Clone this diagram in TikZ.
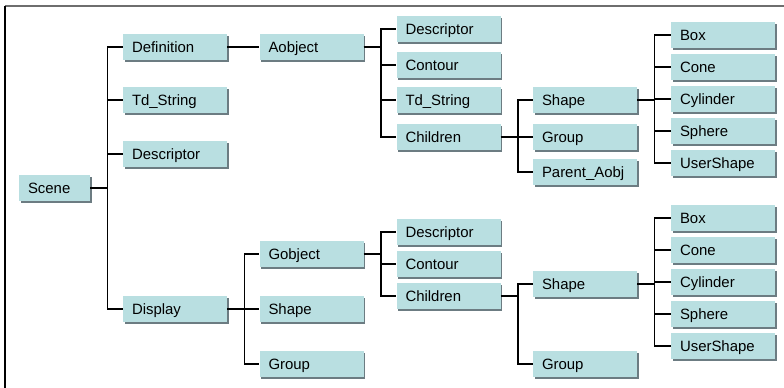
\documentclass[tikz,border=0pt]{standalone}
\usepackage{fontspec}
\setmainfont{Liberation Sans}
\usetikzlibrary{shadows}
\definecolor{boxfill}{RGB}{185,223,225}
\definecolor{boxedge}{RGB}{108,124,130}
\definecolor{framegrey}{RGB}{110,110,110}
\tikzset{
  item/.style={fill=boxfill, anchor=center, align=left,
    text width=64.5pt, inner xsep=6.75pt, inner ysep=0pt,
    minimum height=19pt, text height=8pt, text depth=0pt,
    font=\fontsize{11.2}{13}\selectfont,
    drop shadow={shadow xshift=1.4pt, shadow yshift=-1.4pt, fill=boxedge, opacity=1}},
  wire/.style={line width=1.1pt, black}
}
% parent to child: out to the bus, then over
\newcommand{\branch}[2]{\draw[wire] (#1.east) -- ++(17,0) |- (#2.west);}

\begin{document}
\begin{tikzpicture}[x=0.75pt, y=-0.75pt]
\useasboundingbox (0,0) rectangle (784,388);
\draw[framegrey, line width=1pt] (5,6) -- (784,6);
\draw[black, line width=1pt] (5,6) -- (5,388);

\node[item, text width=39.75pt] (scene) at (54.5,188) {Scene};
\node[item] (def) at (175,47) {Definition};
\node[item] (tds) at (175,100) {Td\_String};
\node[item] (desc) at (175,154) {Descriptor};
\node[item] (disp) at (175,309) {Display};
\foreach \c in {def,tds,desc,disp} {\branch{scene}{\c}}

% Definition subtree
\node[item] (aobj) at (311.5,47) {Aobject};
\draw[wire] (def.east) -- (aobj.west);
\node[item] (adesc) at (448.5,29) {Descriptor};
\node[item] (acont) at (448.5,65) {Contour};
\node[item] (atds) at (448.5,100) {Td\_String};
\node[item] (achild) at (448.5,137) {Children};
\foreach \c in {adesc,acont,atds,achild} {\branch{aobj}{\c}}
\node[item] (ashape) at (585,100) {Shape};
\node[item] (agroup) at (585,137) {Group};
\node[item] (aparent) at (585,172) {Parent\_Aobj};
\foreach \c in {ashape,agroup,aparent} {\branch{achild}{\c}}
\foreach \n [count=\i from 0] in {Box,Cone,Cylinder,Sphere,UserShape} {
  \node[item] (ab\i) at (723,{35+32*\i}) {\n};
  \branch{ashape}{ab\i}
}

% Display subtree
\node[item] (gobj) at (311.5,254) {Gobject};
\node[item] (gshape) at (311.5,309) {Shape};
\node[item] (ggroup) at (311.5,364) {Group};
\foreach \c in {gobj,gshape,ggroup} {\branch{disp}{\c}}
\node[item] (gdesc) at (448.5,232) {Descriptor};
\node[item] (gcont) at (448.5,264) {Contour};
\node[item] (gchild) at (448.5,296) {Children};
\foreach \c in {gdesc,gcont,gchild} {\branch{gobj}{\c}}
\node[item] (cshape) at (585,284) {Shape};
\node[item] (cgroup) at (585,364) {Group};
\foreach \c in {cshape,cgroup} {\branch{gchild}{\c}}
\foreach \n [count=\i from 0] in {Box,Cone,Cylinder,Sphere,UserShape} {
  \node[item] (gb\i) at (723,{218+32*\i}) {\n};
  \branch{cshape}{gb\i}
}
\end{tikzpicture}
\end{document}
